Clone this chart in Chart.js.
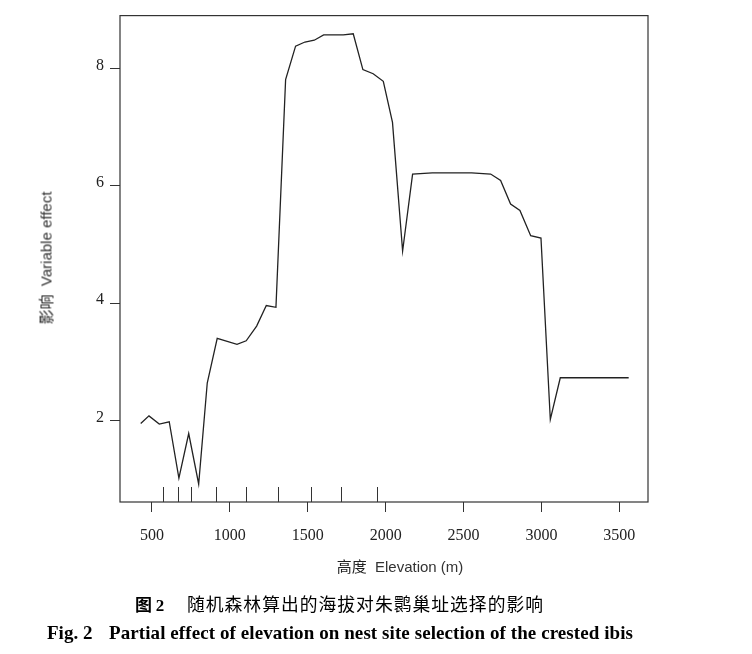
<!DOCTYPE html>
<html>
<head>
<meta charset="utf-8">
<script src="https://cdn.jsdelivr.net/npm/chart.js@4.4.1/dist/chart.umd.min.js"></script>
<style>
    body{margin:0;background:#fff;}
    #contenedor{position:relative;width:752px;height:654px;}
    #grafica{position:absolute;left:0;top:0;}
    .txt{position:absolute;white-space:nowrap;color:#222;}
    .tituloY{left:45px;top:258px;transform:translate(-50%,-50%) rotate(-90deg);font:15px "Liberation Sans",sans-serif;color:#333;}
    .tituloX{left:400px;top:565px;transform:translate(-50%,-50%);font:15px "Liberation Sans",sans-serif;color:#333;}
    .cjk{font-family:"Noto Sans CJK SC",sans-serif;color:#222;}
    .pie1a{left:135px;top:603px;transform:translateY(-50%);font:bold 17px "Noto Sans CJK SC",sans-serif;color:#000;}
    .pie1b{left:187px;top:603px;transform:translateY(-50%);font:17.8px "Noto Sans CJK SC",sans-serif;color:#000;}
    .pie2a{left:47px;top:633px;transform:translateY(-50%);font:bold 19px "Liberation Serif",serif;color:#000;}
    .pie2b{left:109px;top:633px;transform:translateY(-50%);font:bold 19px "Liberation Serif",serif;color:#000;}
</style>
</head>
<body>
<div id="contenedor">
    <canvas id="grafica" width="752" height="654"></canvas>
    <div class="txt tituloY"><span class="cjk">影响</span>&nbsp;&nbsp;Variable effect</div>
    <div class="txt tituloX"><span class="cjk">高度</span>&nbsp;&nbsp;Elevation (m)</div>
    <div class="txt pie1a">图 <span style="font-family:'Liberation Serif',serif">2</span></div>
    <div class="txt pie1b" id="pieChino">随机森林算出的海拔对朱鹮巢址选择的影响</div>
    <div class="txt pie2a">Fig. 2</div>
    <div class="txt pie2b" id="pieIngles">Partial effect of elevation on nest site selection of the crested ibis</div>
</div>
<script>
// datos
var elevacion = [428, 481, 547, 611, 673, 736, 800, 855, 919, 1046, 1105, 1172, 1234, 1296,
    1358, 1422, 1482, 1542, 1602, 1665, 1728, 1792, 1854, 1920, 1985, 2044, 2109, 2173,
    2299, 2552, 2674, 2738, 2802, 2862, 2931, 2997, 3057, 3121, 3560];
var efecto = [1.95, 2.08, 1.94, 1.98, 1.02, 1.78, 0.92, 2.64, 3.40, 3.30, 3.36, 3.61, 3.96, 3.93,
    7.81, 8.38, 8.45, 8.48, 8.57, 8.57, 8.57, 8.59, 7.98, 7.91, 7.78, 7.08, 4.89, 6.20,
    6.22, 6.22, 6.20, 6.09, 5.69, 5.58, 5.15, 5.11, 2.02, 2.73, 2.73];
var rug = [570, 667, 750, 911, 1103, 1309, 1520, 1713, 1944];
var ticksX = [500, 1000, 1500, 2000, 2500, 3000, 3500];
var ticksY = [2, 4, 6, 8];

var puntos = [];
for (var i = 0; i < elevacion.length; i++) {
    puntos.push({x: elevacion[i], y: efecto[i]});
}

// ajustar el ancho de los pies de figura
function ajustarAncho(id, ancho) {
    var el = document.getElementById(id);
    var w = el.getBoundingClientRect().width;
    var n = el.textContent.length;
    if (n > 1) {
        el.style.letterSpacing = ((ancho - w) / (n - 1)) + 'px';
    }
}
ajustarAncho('pieChino', 356);
ajustarAncho('pieIngles', 524);

// marco y marcas del rug
var marco = {
    id: 'marco',
    afterDraw: function (chart) {
        var ctx = chart.ctx;
        var a = chart.chartArea;
        var sx = chart.scales.x;
        ctx.save();
        ctx.strokeStyle = '#333';
        ctx.lineWidth = 1.2;
        ctx.strokeRect(a.left, a.top, a.right - a.left, a.bottom - a.top);
        ctx.lineWidth = 1;
        ctx.beginPath();
        for (var i = 0; i < rug.length; i++) {
            var px = Math.round(sx.getPixelForValue(rug[i])) + 0.5;
            ctx.moveTo(px, a.bottom);
            ctx.lineTo(px, a.bottom - 15);
        }
        ctx.stroke();
        ctx.restore();
    }
};

var canvas = document.getElementById('grafica').getContext('2d');
var grafica = new Chart(canvas, {
    type: 'scatter',
    data: {
        datasets: [{
            data: puntos,
            showLine: true,
            borderColor: '#222',
            borderWidth: 1.3,
            pointRadius: 0,
            tension: 0
        }]
    },
    options: {
        responsive: false,
        animation: false,
        layout: {padding: {left: 0, right: 104, top: 15, bottom: 112}},
        plugins: {legend: {display: false}, tooltip: {enabled: false}},
        scales: {
            x: {
                type: 'linear',
                min: 295,
                max: 3684,
                afterBuildTicks: function (s) {
                    s.ticks = ticksX.map(function (v) { return {value: v}; });
                },
                afterFit: function (s) { s.height = 40; },
                border: {display: false},
                grid: {drawOnChartArea: false, drawTicks: true, tickLength: 10, color: '#333'},
                ticks: {
                    color: '#222',
                    padding: 14,
                    maxRotation: 0,
                    font: {family: 'Liberation Serif', size: 16},
                    callback: function (v) { return String(v); }
                }
            },
            y: {
                type: 'linear',
                min: 0.613,
                max: 8.9,
                afterBuildTicks: function (s) {
                    s.ticks = ticksY.map(function (v) { return {value: v}; });
                },
                afterFit: function (s) { s.width = 120; },
                border: {display: false},
                grid: {drawOnChartArea: false, drawTicks: true, tickLength: 10, color: '#333'},
                ticks: {
                    color: '#222',
                    padding: 6,
                    labelOffset: -3,
                    font: {family: 'Liberation Serif', size: 16}
                }
            }
        }
    },
    plugins: [marco]
});
</script>
</body>
</html>
